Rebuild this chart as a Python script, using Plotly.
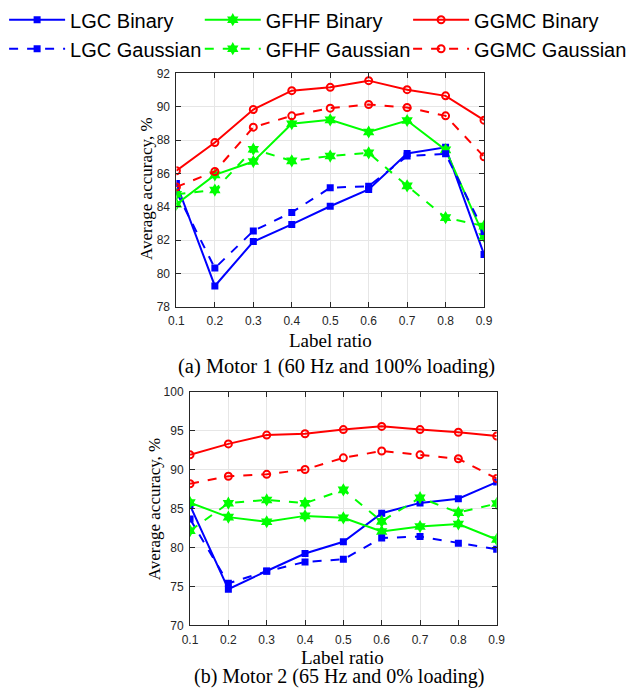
import plotly.graph_objects as go

ratios = [0.1, 0.2, 0.3, 0.4, 0.5, 0.6, 0.7, 0.8, 0.9]

# Motor 1 (60 Hz, 100% loading)
m1_lgc_bin = [85.4, 79.26, 81.92, 82.95, 84.04, 85.05, 87.2, 87.57, 81.15]
m1_lgc_gau = [84.9, 80.33, 82.56, 83.67, 85.15, 85.24, 87.05, 87.18, 82.52]
m1_gfhf_bin = [84.16, 85.92, 86.72, 88.99, 89.22, 88.49, 89.18, 87.42, 82.23]
m1_gfhf_gau = [84.76, 85.01, 87.46, 86.76, 87.05, 87.24, 85.26, 83.36, 82.85]
m1_ggmc_bin = [86.17, 87.86, 89.84, 90.97, 91.17, 91.57, 91.03, 90.66, 89.2]
m1_ggmc_gau = [85.2, 86.12, 88.78, 89.46, 89.92, 90.14, 89.96, 89.46, 87.01]

# Motor 2 (65 Hz, 0% loading)
m2_lgc_bin = [85.42, 74.67, 77.0, 79.25, 80.75, 84.42, 85.75, 86.29, 88.42]
m2_lgc_gau = [83.67, 75.42, 76.96, 78.17, 78.5, 81.25, 81.42, 80.58, 79.79]
m2_gfhf_bin = [85.79, 83.92, 83.33, 84.08, 83.83, 82.08, 82.71, 83.04, 81.04]
m2_gfhf_gau = [82.17, 85.71, 86.13, 85.71, 87.42, 83.38, 86.42, 84.5, 85.67]
m2_ggmc_bin = [91.92, 93.33, 94.46, 94.63, 95.17, 95.58, 95.17, 94.83, 94.33]
m2_ggmc_gau = [88.21, 89.17, 89.42, 90.04, 91.54, 92.42, 91.92, 91.42, 88.88]

names = ["LGC Binary", "GFHF Binary", "GGMC Binary",
         "LGC Gaussian", "GFHF Gaussian", "GGMC Gaussian"]
legend_ids = ["legend", "legend2", "legend3", "legend", "legend2", "legend3"]

BLUE, GREEN, RED = "#0000FF", "#00FF00", "#FF0000"
styles = [
    (BLUE, "solid", "square", 7),
    (GREEN, "solid", "hexagram", 10),
    (RED, "solid", "circle-open", 7),
    (BLUE, "dash", "square", 7),
    (GREEN, "dash", "hexagram", 10),
    (RED, "dash", "circle-open", 7),
]

top = [m1_lgc_bin, m1_gfhf_bin, m1_ggmc_bin, m1_lgc_gau, m1_gfhf_gau, m1_ggmc_gau]
bot = [m2_lgc_bin, m2_gfhf_bin, m2_ggmc_bin, m2_lgc_gau, m2_gfhf_gau, m2_ggmc_gau]

fig = go.Figure()
for i, (nm, st) in enumerate(zip(names, styles)):
    col, dash, sym, sz = st
    mk = dict(symbol=sym, size=sz, color=col, line=dict(color=col, width=2 if "open" in sym else 0))
    fig.add_trace(go.Scatter(x=ratios, y=top[i], name=nm, mode="lines+markers",
                             line=dict(color=col, width=2, dash=dash), marker=mk,
                             xaxis="x", yaxis="y", showlegend=True, legend=legend_ids[i]))
for i, (nm, st) in enumerate(zip(names, styles)):
    col, dash, sym, sz = st
    mk = dict(symbol=sym, size=sz, color=col, line=dict(color=col, width=2 if "open" in sym else 0))
    fig.add_trace(go.Scatter(x=ratios, y=bot[i], name=nm, mode="lines+markers",
                             line=dict(color=col, width=2, dash=dash), marker=mk,
                             xaxis="x2", yaxis="y2", showlegend=False))

W, H = 641, 695
def dx(px):
    return px / W
def dy(py):
    return 1 - py / H

tickfont = dict(family="Liberation Sans, Arial", size=12, color="#262626")
common = dict(showline=True, linecolor="#262626", linewidth=1, mirror="ticks",
              ticks="inside", ticklen=5, tickcolor="#262626", showgrid=True,
              gridcolor="#E6E6E6", gridwidth=1, zeroline=False, tickfont=tickfont,
              ticklabelstandoff=3)

legfont = dict(family="Liberation Sans, Arial", size=20, color="black")
def leg(xpx):
    return dict(orientation="v", x=dx(xpx), y=1 + 9 / H, xanchor="left", yanchor="top",
                font=legfont, itemwidth=56, tracegroupgap=0, bgcolor="rgba(0,0,0,0)",
                traceorder="normal")

fig.update_layout(
    width=W, height=H,
    margin=dict(l=0, r=0, t=0, b=0),
    paper_bgcolor="white", plot_bgcolor="white",
    xaxis=dict(domain=[dx(173), dx(489)], anchor="y", range=[0.1, 0.9],
               tickvals=ratios, ticktext=[f"{v:.1f}" for v in ratios], **common),
    yaxis=dict(domain=[dy(305), dy(66)], anchor="x", range=[78, 92],
               tickvals=list(range(78, 93, 2)), **common),
    xaxis2=dict(domain=[dx(187), dx(502)], anchor="y2", range=[0.1, 0.9],
                tickvals=ratios, ticktext=[f"{v:.1f}" for v in ratios], **common),
    yaxis2=dict(domain=[dy(631), dy(392)], anchor="x2", range=[70, 100],
                tickvals=list(range(70, 101, 5)), **common),
    legend=leg(-4),
    legend2=leg(197),
    legend3=leg(411),
)

serif = dict(family="Liberation Serif, Times New Roman", size=19, color="black")
serif_y = dict(family="Liberation Serif, Times New Roman", size=17, color="black")
serif_c1 = dict(family="Liberation Serif, Times New Roman", size=20.5, color="black")
serif_c2 = dict(family="Liberation Serif, Times New Roman", size=20, color="black")
ann = [
    dict(text="Average accuracy, %", x=dx(143), y=dy(184), textangle=-90, font=serif_y),
    dict(text="Label ratio", x=dx(331), y=dy(339), font=serif),
    dict(text="(a) Motor 1 (60 Hz and 100% loading)", x=dx(337), y=dy(366), font=serif_c1),
    dict(text="Average accuracy, %", x=dx(150), y=dy(512), textangle=-90, font=serif_y),
    dict(text="Label ratio", x=dx(344), y=dy(664), font=serif),
    dict(text="(b) Motor 2 (65 Hz and 0% loading)", x=dx(341), y=dy(683), font=serif_c2),
]
for a in ann:
    fig.add_annotation(xref="paper", yref="paper", showarrow=False,
                       xanchor="center", yanchor="middle", **a)

fig.write_html("out.html")
